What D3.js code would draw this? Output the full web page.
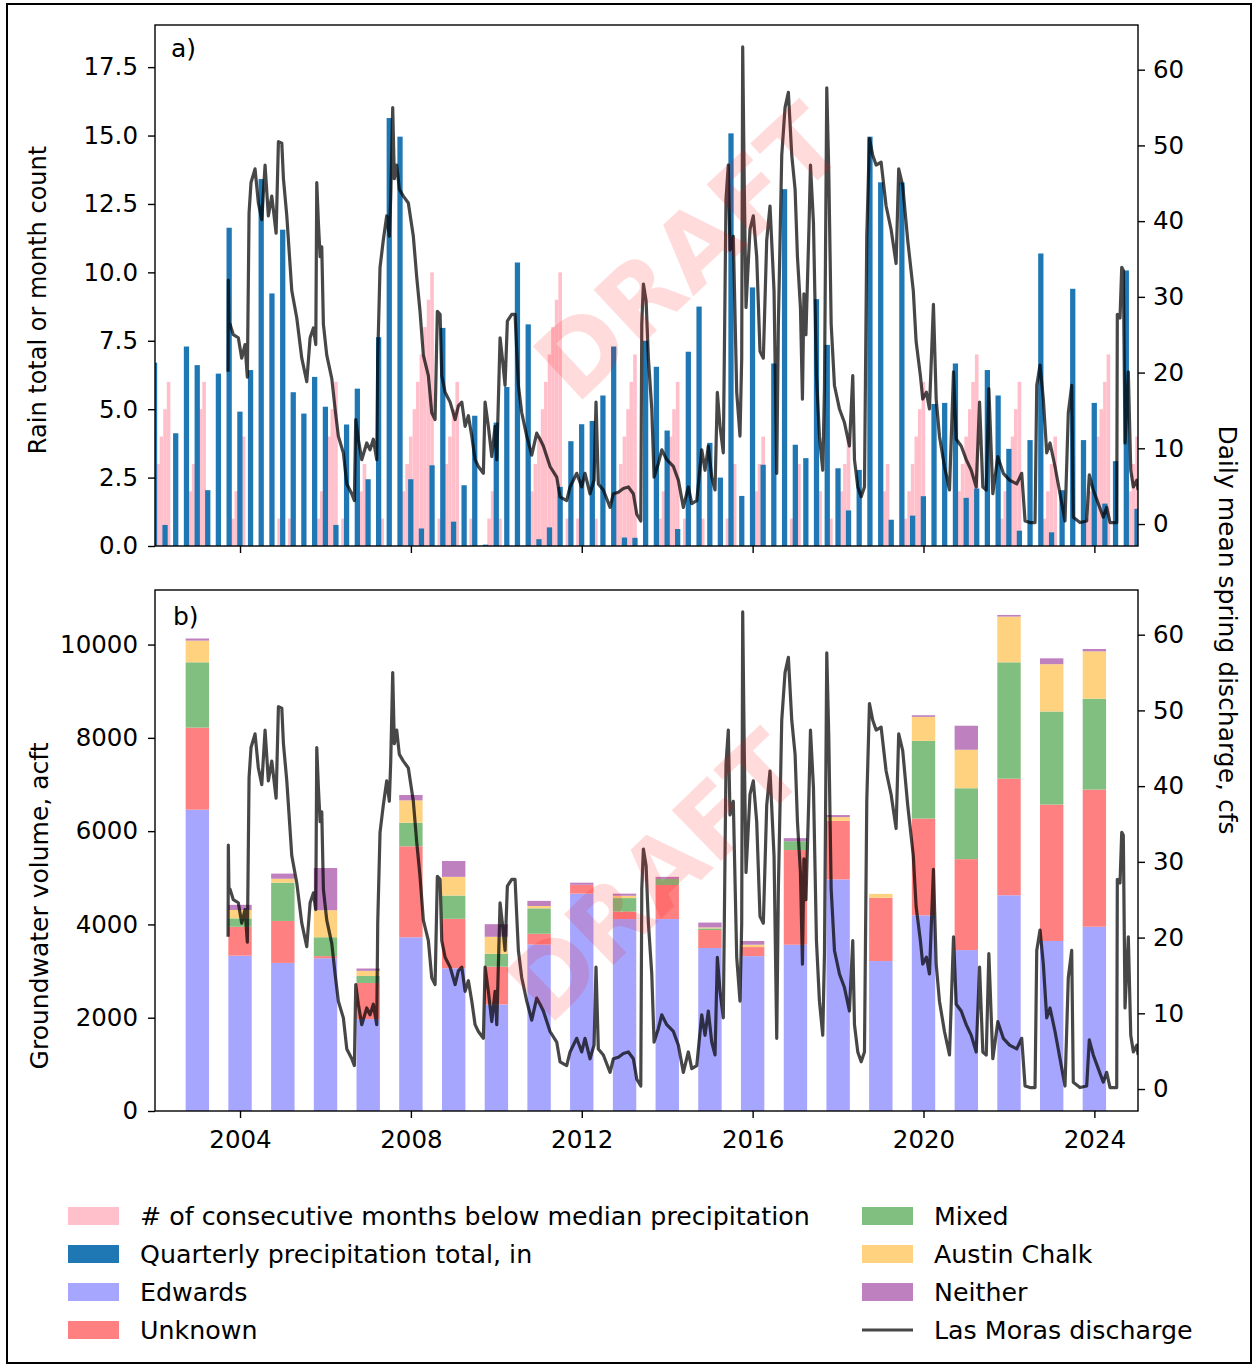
<!DOCTYPE html>
<html>
<head>
<meta charset="utf-8">
<script src="https://cdnjs.cloudflare.com/ajax/libs/d3/7.8.5/d3.min.js"></script>
<style>
    body { margin: 0; background: #fff; }
    text { font-family: "DejaVu Sans", sans-serif; fill: #000; }
</style>
</head>
<body>
<svg id="chart" width="1257" height="1368"></svg>
<script>
// months below median precipitation, one row per year (Jan..Dec), 2002-2024
var dryMonths = [
    3, 4, 5, 6, 0, 1, 0, 0, 1, 2, 3, 4,
    5, 6, 0, 0, 0, 0, 0, 0, 0, 1, 2, 3,
    4, 0, 0, 0, 0, 0, 0, 0, 0, 0, 1, 0,
    0, 1, 0, 0, 0, 0, 0, 0, 0, 1, 2, 3,
    4, 5, 6, 0, 1, 0, 0, 0, 1, 2, 3, 0,
    0, 0, 0, 1, 0, 1, 0, 0, 1, 2, 3, 4,
    5, 6, 7, 8, 9, 10, 0, 1, 2, 3, 4, 5,
    6, 0, 0, 0, 1, 2, 0, 0, 0, 1, 2, 0,
    1, 0, 0, 0, 0, 0, 0, 0, 1, 2, 3, 4,
    5, 6, 7, 8, 9, 10, 0, 1, 0, 0, 1, 2,
    0, 0, 0, 1, 0, 0, 0, 0, 1, 2, 3, 4,
    5, 6, 7, 0, 0, 0, 0, 0, 0, 1, 2, 3,
    4, 5, 6, 0, 1, 0, 0, 0, 0, 1, 0, 0,
    0, 0, 0, 0, 1, 2, 3, 0, 0, 0, 0, 1,
    2, 3, 4, 0, 0, 0, 0, 0, 1, 0, 1, 2,
    3, 0, 0, 0, 0, 1, 2, 0, 0, 1, 0, 1,
    2, 3, 4, 0, 0, 0, 0, 0, 0, 0, 0, 1,
    2, 3, 0, 0, 0, 0, 1, 2, 3, 4, 5, 6,
    0, 0, 0, 0, 0, 0, 0, 0, 1, 2, 3, 4,
    5, 6, 7, 0, 0, 1, 0, 0, 0, 1, 2, 3,
    4, 5, 6, 0, 0, 0, 0, 0, 0, 1, 2, 3,
    4, 0, 0, 0, 0, 0, 0, 0, 0, 1, 2, 3,
    4, 5, 6, 7, 0, 0, 0, 0, 1, 2, 3, 4
];

// quarterly precipitation (in), quarter ends from 2001-12-31 to 2024-12-31
var quarterRain = [
    6.70, 0.77, 4.12, 7.29,
    6.61, 2.04, 6.30, 11.63,
    4.91, 6.43, 13.41, 9.23,
    11.56, 5.62, 4.84, 6.18,
    5.09, 0.77, 4.44, 5.75,
    2.44, 7.63, 15.64, 14.96,
    2.44, 0.64, 2.95, 7.97,
    0.89, 2.22, 4.76, 0.05,
    4.51, 5.81, 10.36, 8.10,
    0.25, 0.68, 2.16, 3.83,
    4.45, 4.57, 5.50, 7.29,
    0.31, 0.30, 7.50, 6.55,
    4.22, 0.62, 7.10, 8.75,
    3.77, 2.50, 15.08, 1.83,
    9.45, 2.97, 6.67, 13.04,
    3.70, 3.21, 9.02, 7.35,
    2.84, 1.30, 2.78, 14.96,
    13.29, 0.96, 13.29, 1.11,
    1.82, 5.19, 5.23, 6.67,
    1.76, 2.10, 6.43, 5.50,
    3.55, 0.56, 3.87, 10.69,
    0.50, 2.04, 9.40, 3.87,
    5.23, 1.55, 3.10, 10.07,
    1.36
];

// groundwater volume by source (acft)
var gwYears = [2003, 2004, 2005, 2006, 2007, 2008, 2009, 2010, 2011, 2012, 2013,
    2014, 2015, 2016, 2017, 2018, 2019, 2020, 2021, 2022, 2023, 2024];
var edwards = [6460, 3330, 3175, 3275, 1970, 3725, 3060, 2285, 3570, 4660, 4115,
    4115, 3495, 3320, 3565, 4965, 3215, 4195, 3450, 4625, 3645, 3950];
var unknown = [1760, 620, 900, 45, 775, 1950, 1060, 810, 230, 190, 160,
    730, 385, 195, 2030, 1255, 1355, 2075, 1950, 2500, 2925, 2940];
var mixed = [1400, 180, 820, 405, 150, 505, 500, 275, 545, 0, 290,
    130, 35, 0, 190, 0, 0, 1665, 1520, 2495, 1995, 1950];
var austinChalk = [465, 180, 85, 580, 110, 480, 400, 365, 50, 0, 50,
    0, 20, 50, 0, 80, 85, 515, 825, 980, 1015, 1015];
var neither = [45, 110, 110, 905, 50, 115, 340, 270, 110, 45, 45,
    45, 105, 80, 65, 45, 0, 35, 515, 35, 125, 50];

// Las Moras spring discharge (cfs), decimal year / value pairs
var flowYear = [
    2003.720, 2003.726, 2003.740, 2003.766, 2003.843, 2003.960, 2004.040, 2004.117, 2004.171, 2004.211,
    2004.257, 2004.351, 2004.428, 2004.508, 2004.585, 2004.662, 2004.742, 2004.843, 2004.897, 2004.976,
    2005.014, 2005.093, 2005.210, 2005.327, 2005.444, 2005.561, 2005.639, 2005.716, 2005.772, 2005.795,
    2005.833, 2005.873, 2005.912, 2005.950, 2006.029, 2006.147, 2006.224, 2006.301, 2006.418, 2006.498,
    2006.615, 2006.676, 2006.708, 2006.769, 2006.849, 2006.966, 2007.043, 2007.120, 2007.200, 2007.223,
    2007.277, 2007.354, 2007.434, 2007.495, 2007.528, 2007.574, 2007.612, 2007.668, 2007.729, 2007.823,
    2007.940, 2008.057, 2008.136, 2008.213, 2008.291, 2008.408, 2008.487, 2008.565, 2008.618, 2008.682,
    2008.721, 2008.799, 2008.916, 2009.033, 2009.110, 2009.190, 2009.267, 2009.344, 2009.424, 2009.501,
    2009.578, 2009.695, 2009.735, 2009.812, 2009.892, 2009.969, 2010.009, 2010.086, 2010.140, 2010.203,
    2010.257, 2010.360, 2010.437, 2010.515, 2010.594, 2010.711, 2010.828, 2010.945, 2011.023, 2011.100,
    2011.257, 2011.413, 2011.491, 2011.647, 2011.725, 2011.882, 2011.999, 2012.076, 2012.193, 2012.287,
    2012.333, 2012.387, 2012.504, 2012.661, 2012.738, 2012.855, 2012.972, 2013.089, 2013.206, 2013.286,
    2013.380, 2013.403, 2013.441, 2013.504, 2013.558, 2013.637, 2013.691, 2013.792, 2013.871, 2013.988,
    2014.143, 2014.260, 2014.377, 2014.494, 2014.574, 2014.691, 2014.808, 2014.885, 2014.962, 2015.042,
    2015.119, 2015.173, 2015.236, 2015.313, 2015.376, 2015.430, 2015.470, 2015.547, 2015.627, 2015.704,
    2015.744, 2015.767, 2015.805, 2015.845, 2015.938, 2016.016, 2016.095, 2016.172, 2016.250, 2016.329,
    2016.406, 2016.500, 2016.563, 2016.601, 2016.680, 2016.757, 2016.835, 2016.914, 2016.992, 2017.047,
    2017.117, 2017.164, 2017.199, 2017.246, 2017.316, 2017.352, 2017.422, 2017.492, 2017.562, 2017.640,
    2017.680, 2017.734, 2017.781, 2017.837, 2017.914, 2018.031, 2018.148, 2018.265, 2018.343, 2018.383,
    2018.460, 2018.540, 2018.617, 2018.671, 2018.734, 2018.811, 2018.890, 2019.007, 2019.124, 2019.241,
    2019.358, 2019.419, 2019.513, 2019.630, 2019.761, 2019.827, 2019.927, 2019.982, 2020.068, 2020.139,
    2020.232, 2020.296, 2020.373, 2020.490, 2020.607, 2020.701, 2020.764, 2020.881, 2020.998, 2021.115,
    2021.232, 2021.310, 2021.387, 2021.467, 2021.528, 2021.621, 2021.738, 2021.867, 2022.013, 2022.181,
    2022.298, 2022.376, 2022.493, 2022.610, 2022.650, 2022.727, 2022.804, 2022.884, 2022.961, 2023.078,
    2023.195, 2023.312, 2023.389, 2023.469, 2023.506, 2023.663, 2023.820, 2023.881, 2023.974, 2024.091,
    2024.208, 2024.288, 2024.365, 2024.522, 2024.536, 2024.599, 2024.639, 2024.676, 2024.716, 2024.793,
    2024.850, 2024.911, 2024.991, 2025.021
];
var flowCfs = [
    20.1, 32.2, 26.4, 26.4, 25.0, 24.6, 21.9, 23.7, 19.4, 41.1,
    45.1, 46.9, 42.4, 40.2, 47.4, 40.7, 43.3, 38.4, 50.5, 50.3,
    45.6, 40.7, 30.8, 27.2, 21.9, 18.8, 24.6, 25.9, 23.7, 45.1,
    39.8, 35.3, 36.6, 26.4, 22.3, 19.2, 15.2, 11.6, 9.4, 5.3,
    4.0, 3.1, 13.8, 11.2, 8.5, 10.7, 9.8, 11.2, 8.5, 21.9,
    33.9, 37.5, 40.7, 38.0, 43.3, 55.0, 45.6, 47.4, 44.2, 43.3,
    42.4, 38.0, 32.6, 28.1, 22.3, 19.6, 14.7, 13.8, 28.1, 27.7,
    19.6, 17.4, 16.1, 13.8, 15.6, 16.1, 12.9, 14.3, 11.6, 8.5,
    7.6, 6.7, 16.1, 12.9, 8.9, 12.9, 8.5, 24.6, 21.9, 18.3,
    26.8, 27.7, 27.7, 18.3, 14.7, 11.6, 9.1, 12.0, 11.2, 10.3,
    7.6, 6.2, 3.6, 3.1, 4.9, 6.7, 4.9, 6.7, 4.0, 5.8,
    16.1, 5.3, 4.5, 2.2, 4.0, 4.2, 4.7, 4.9, 4.0, 1.3,
    0.4, 26.4, 31.7, 29.5, 21.9, 15.2, 6.2, 8.0, 9.8, 8.5,
    7.6, 5.8, 2.2, 4.9, 2.7, 3.1, 9.8, 7.1, 10.3, 6.2,
    4.5, 17.4, 12.9, 9.4, 42.9, 47.4, 36.2, 38.0, 17.4, 11.6,
    21.9, 63.0, 44.2, 28.6, 38.9, 40.7, 35.3, 22.8, 21.9, 37.5,
    42.0, 30.8, 6.7, 26.4, 48.7, 55.0, 57.0, 48.7, 44.2, 35.3,
    28.6, 16.5, 30.4, 25.0, 38.9, 47.4, 39.8, 19.6, 11.6, 7.1,
    17.9, 57.6, 46.5, 26.4, 18.3, 15.2, 13.4, 10.3, 19.6, 8.5,
    4.9, 3.6, 4.9, 38.0, 50.9, 48.7, 47.4, 47.8, 42.0, 38.9,
    34.4, 46.9, 44.7, 37.5, 30.8, 24.1, 19.6, 16.5, 17.4, 15.2,
    29.0, 16.5, 11.6, 7.6, 4.5, 20.1, 11.2, 10.3, 8.5, 7.1,
    4.9, 16.1, 4.9, 4.5, 17.9, 4.0, 8.9, 6.7, 5.8, 5.3,
    6.7, 0.4, 0.2, 0.2, 18.3, 21.0, 16.5, 9.4, 10.7, 7.6,
    4.0, 0.4, 14.7, 18.3, 0.9, 0.2, 0.4, 6.5, 4.5, 2.7,
    0.9, 2.2, 0.2, 0.2, 27.7, 27.2, 33.9, 33.5, 10.7, 20.1,
    7.1, 4.9, 5.8, 4.5
];

var rainTicks = [0, 2.5, 5, 7.5, 10, 12.5, 15, 17.5];
var gwTicks = [0, 2000, 4000, 6000, 8000, 10000];
var flowTicks = [0, 10, 20, 30, 40, 50, 60];
var yearTicks = [2004, 2008, 2012, 2016, 2020, 2024];

var sourceNames = ["Edwards", "Unknown", "Mixed", "Austin Chalk", "Neither"];
var sourceColors = ["#a6a6ff", "#ff8080", "#80bf80", "#ffd280", "#bf80bf"];

var svg = d3.select("#chart");
var left = 155, right = 1138;
var panels = { a: { top: 25, bottom: 546 }, b: { top: 590, bottom: 1111 } };

function yearToDate(t) {
    var y = Math.floor(t);
    var s = new Date(y, 0, 1), e = new Date(y + 1, 0, 1);
    return new Date(+s + (t - y) * (e - s));
}

var x = d3.scaleTime()
    .domain([new Date(2002, 0, 4), new Date(2025, 0, 8)])
    .range([left, right]);

var yRain = d3.scaleLinear().domain([0, 19.04]).range([panels.a.bottom, panels.a.top]);
var yFlowA = d3.scaleLinear().domain([-2.9, 65.9]).range([panels.a.bottom, panels.a.top]);
var yGw = d3.scaleLinear().domain([0, 11170]).range([panels.b.bottom, panels.b.top]);
var yFlowB = d3.scaleLinear().domain([-2.9, 65.9]).range([panels.b.bottom, panels.b.top]);

// outer frame
svg.append("rect")
    .attr("x", 7).attr("y", 4).attr("width", 1244).attr("height", 1359)
    .attr("fill", "none").attr("stroke", "#000").attr("stroke-width", 2);

var defs = svg.append("defs");
["a", "b"].forEach(k => {
    defs.append("clipPath").attr("id", "clip-" + k)
        .append("rect")
        .attr("x", left).attr("y", panels[k].top)
        .attr("width", right - left).attr("height", panels[k].bottom - panels[k].top);
});

var dayMs = 864e5;
function barW(days) {
    return x(new Date(+x.domain()[0] + days * dayMs)) - left;
}

var flow = flowYear.map((t, i) => ({ date: yearToDate(t), q: flowCfs[i] }));

// ---- panel a ----
var ga = svg.append("g").attr("clip-path", "url(#clip-a)");

var monthly = dryMonths.map((v, i) => ({
    date: d3.timeDay.offset(d3.timeMonth.offset(new Date(2002, 1, 1), i), -1),
    v: v
}));
var wMonth = barW(31);
ga.selectAll("rect.dry").data(monthly.filter(d => d.v > 0)).enter()
    .append("rect")
    .attr("class", "dry")
    .attr("x", d => x(d.date) - wMonth / 2)
    .attr("width", wMonth)
    .attr("y", d => yRain(d.v))
    .attr("height", d => yRain(0) - yRain(d.v))
    .attr("fill", "#ffc0cb");

var quarterly = quarterRain.map((v, i) => ({
    date: d3.timeDay.offset(d3.timeMonth.offset(new Date(2002, 0, 1), 3 * i), -1),
    v: v
}));
var wQuarter = barW(45);
ga.selectAll("rect.rain").data(quarterly).enter()
    .append("rect")
    .attr("class", "rain")
    .attr("x", d => x(d.date) - wQuarter / 2)
    .attr("width", wQuarter)
    .attr("y", d => yRain(d.v))
    .attr("height", d => yRain(0) - yRain(d.v))
    .attr("fill", "#1f77b4");

var lineA = d3.line().x(d => x(d.date)).y(d => yFlowA(d.q));
ga.append("path").datum(flow)
    .attr("d", lineA)
    .attr("fill", "none")
    .attr("stroke", "#000")
    .attr("stroke-opacity", 0.72)
    .attr("stroke-width", 3.2)
    .attr("stroke-linejoin", "round");

// ---- panel b ----
var gb = svg.append("g").attr("clip-path", "url(#clip-b)");
var stackRows = gwYears.map((y, i) => ({
    date: new Date(y, 0, 1),
    "Edwards": edwards[i], "Unknown": unknown[i], "Mixed": mixed[i],
    "Austin Chalk": austinChalk[i], "Neither": neither[i]
}));
var series = d3.stack().keys(sourceNames)(stackRows);
var wYear = barW(200);
gb.selectAll("g.layer").data(series).enter()
    .append("g")
    .attr("class", "layer")
    .attr("fill", (d, i) => sourceColors[i])
    .selectAll("rect").data(d => d).enter()
    .append("rect")
    .attr("x", d => x(d.data.date) - wYear / 2)
    .attr("width", wYear)
    .attr("y", d => yGw(d[1]))
    .attr("height", d => yGw(d[0]) - yGw(d[1]));

var lineB = d3.line().x(d => x(d.date)).y(d => yFlowB(d.q));
gb.append("path").datum(flow)
    .attr("d", lineB)
    .attr("fill", "none")
    .attr("stroke", "#000")
    .attr("stroke-opacity", 0.72)
    .attr("stroke-width", 3.2)
    .attr("stroke-linejoin", "round");

// ---- watermarks ----
[{ cx: 688, cy: 252, rot: -43, size: 100 }, { cx: 655, cy: 876, rot: -44, size: 97 }].forEach(w => {
    svg.append("text")
        .attr("transform", `translate(${w.cx},${w.cy}) rotate(${w.rot})`)
        .attr("text-anchor", "middle")
        .attr("dy", "0.36em")
        .style("font-size", w.size + "px")
        .style("font-weight", "bold")
        .style("fill", "#ff0000")
        .style("fill-opacity", 0.14)
        .text("DRAFT");
});

// ---- axes ----
function styleAxis(g) {
    g.select(".domain").remove();
    g.selectAll(".tick line").attr("stroke", "#000").attr("stroke-width", 1.4);
    g.selectAll(".tick text").style("font-size", "24.5px").attr("fill", "#000");
}

svg.append("g").attr("transform", `translate(${left},0)`)
    .call(d3.axisLeft(yRain).tickValues(rainTicks).tickFormat(d3.format(".1f")).tickSize(7).tickPadding(10))
    .call(styleAxis);
svg.append("g").attr("transform", `translate(${right},0)`)
    .call(d3.axisRight(yFlowA).tickValues(flowTicks).tickFormat(d3.format("d")).tickSize(7).tickPadding(8))
    .call(styleAxis);
svg.append("g").attr("transform", `translate(0,${panels.a.bottom})`)
    .call(d3.axisBottom(x).tickValues(yearTicks.map(y => new Date(y, 0, 1))).tickFormat("").tickSize(7))
    .call(styleAxis);

svg.append("g").attr("transform", `translate(${left},0)`)
    .call(d3.axisLeft(yGw).tickValues(gwTicks).tickFormat(d3.format("d")).tickSize(7).tickPadding(10))
    .call(styleAxis);
svg.append("g").attr("transform", `translate(${right},0)`)
    .call(d3.axisRight(yFlowB).tickValues(flowTicks).tickFormat(d3.format("d")).tickSize(7).tickPadding(8))
    .call(styleAxis);
svg.append("g").attr("transform", `translate(0,${panels.b.bottom})`)
    .call(d3.axisBottom(x).tickValues(yearTicks.map(y => new Date(y, 0, 1))).tickFormat(d3.timeFormat("%Y")).tickSize(7).tickPadding(13))
    .call(styleAxis);

// panel frames
["a", "b"].forEach(k => {
    svg.append("rect")
        .attr("x", left).attr("y", panels[k].top)
        .attr("width", right - left).attr("height", panels[k].bottom - panels[k].top)
        .attr("fill", "none").attr("stroke", "#000").attr("stroke-width", 1.4);
});

svg.append("text").attr("x", 171).attr("y", 57).style("font-size", "25px").text("a)");
svg.append("text").attr("x", 173).attr("y", 625).style("font-size", "25px").text("b)");

svg.append("text")
    .attr("transform", "translate(38,300) rotate(-90)")
    .attr("text-anchor", "middle").attr("dy", "0.35em")
    .style("font-size", "24px")
    .text("Rain total or month count");
svg.append("text")
    .attr("transform", "translate(39,906) rotate(-90)")
    .attr("text-anchor", "middle").attr("dy", "0.35em")
    .style("font-size", "25px")
    .text("Groundwater volume, acft");
svg.append("text")
    .attr("transform", "translate(1228,630) rotate(90)")
    .attr("text-anchor", "middle").attr("dy", "0.35em")
    .style("font-size", "25px")
    .text("Daily mean spring discharge, cfs");

// ---- legend ----
var legendItems = [
    { label: "# of consecutive months below median precipitation", color: "#ffc0cb", col: 0, row: 0 },
    { label: "Quarterly precipitation total, in", color: "#1f77b4", col: 0, row: 1 },
    { label: "Edwards", color: sourceColors[0], col: 0, row: 2 },
    { label: "Unknown", color: sourceColors[1], col: 0, row: 3 },
    { label: "Mixed", color: sourceColors[2], col: 1, row: 0 },
    { label: "Austin Chalk", color: sourceColors[3], col: 1, row: 1 },
    { label: "Neither", color: sourceColors[4], col: 1, row: 2 },
    { label: "Las Moras discharge", line: true, col: 1, row: 3 }
];
var colX = [68, 862];
var rowY = [1216, 1254, 1292, 1330];
var lg = svg.append("g").selectAll("g").data(legendItems).enter()
    .append("g")
    .attr("transform", d => `translate(${colX[d.col]},${rowY[d.row]})`);
lg.filter(d => !d.line).append("rect")
    .attr("x", 0).attr("y", -9).attr("width", 51).attr("height", 18)
    .attr("fill", d => d.color);
lg.filter(d => d.line).append("line")
    .attr("x1", 0).attr("x2", 51).attr("y1", 0).attr("y2", 0)
    .attr("stroke", "#000").attr("stroke-opacity", 0.72).attr("stroke-width", 3);
lg.append("text")
    .attr("x", 72).attr("dy", "0.35em")
    .style("font-size", "25.3px")
    .text(d => d.label);
</script>
</body>
</html>
